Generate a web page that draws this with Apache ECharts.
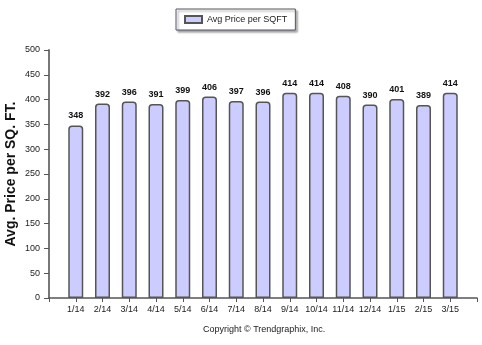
<!DOCTYPE html>
<html><head><meta charset="utf-8">
<script src="https://cdn.jsdelivr.net/npm/echarts@6/dist/echarts.min.js"></script>
<style>html,body{margin:0;padding:0;background:#fff}#c{width:482px;height:345px}</style>
</head><body><div id="c"></div>
<script>
var categories = ['1/14','2/14','3/14','4/14','5/14','6/14','7/14','8/14','9/14','10/14','11/14','12/14','1/15','2/15','3/15'];
var avgPrice = [348,392,396,391,399,406,397,396,414,414,408,390,401,389,414];
var yTicks = [0,50,100,150,200,250,300,350,400,450,500];

var chart = echarts.init(document.getElementById('c'), null, {renderer:'canvas'});
var F = 'Liberation Sans, Arial, sans-serif';
chart.setOption({
  animation:false,
  backgroundColor:'#fff',
  textStyle:{fontFamily:F},
  title:{text:'Copyright \u00a9 Trendgraphix, Inc.', left:198, top:320,
    textStyle:{fontSize:9, fontWeight:'normal', color:'#222', fontFamily:F}},
  legend:{left:176, top:9, padding:[6,8], itemWidth:17, itemHeight:7, itemGap:5,
    backgroundColor:'#fff', borderColor:'#556', borderWidth:1, borderRadius:0,
    shadowColor:'rgba(0,0,0,0.35)', shadowBlur:2, shadowOffsetX:2, shadowOffsetY:2,
    icon:'rect', textStyle:{fontSize:9, color:'#222', fontFamily:F},
    data:['Avg Price per SQFT']},
  grid:{left:49, right:5, top:50, bottom:47, containLabel:false, outerBoundsMode:'none'},
  xAxis:{type:'value', min:0, max:categories.length+1, interval:1,
    axisLine:{show:true, lineStyle:{color:'#555', width:1.5}},
    axisTick:{show:true, length:4, lineStyle:{color:'#555'}},
    splitLine:{show:false},
    axisLabel:{fontSize:9, color:'#222', margin:7, fontFamily:F,
      formatter:function(v){return categories[v-1]||'';}}},
  yAxis:{type:'value', min:yTicks[0], max:yTicks[yTicks.length-1], interval:50,
    name:'Avg. Price per SQ. FT.', nameLocation:'middle', nameGap:31, nameMoveOverlap:false,
    nameTextStyle:{fontSize:14, fontWeight:'bold', color:'#111', fontFamily:F},
    axisLine:{show:true, lineStyle:{color:'#777', width:2}},
    axisTick:{show:true, length:5, lineStyle:{color:'#555'}},
    splitLine:{show:false},
    axisLabel:{fontSize:9, color:'#222', margin:9, fontFamily:F}},
  series:[{name:'Avg Price per SQFT', type:'bar', barWidth:15,
    data:avgPrice.map(function(v,i){return [i+1,v];}),
    itemStyle:{color:'#ccccff', borderColor:'#555', borderWidth:1.5, borderRadius:[3,3,0,0]},
    label:{show:true, position:'top', distance:5, fontSize:9, fontWeight:'bold', color:'#111', fontFamily:F,
      formatter:function(p){return p.value[1];}}}]
});
</script></body></html>
